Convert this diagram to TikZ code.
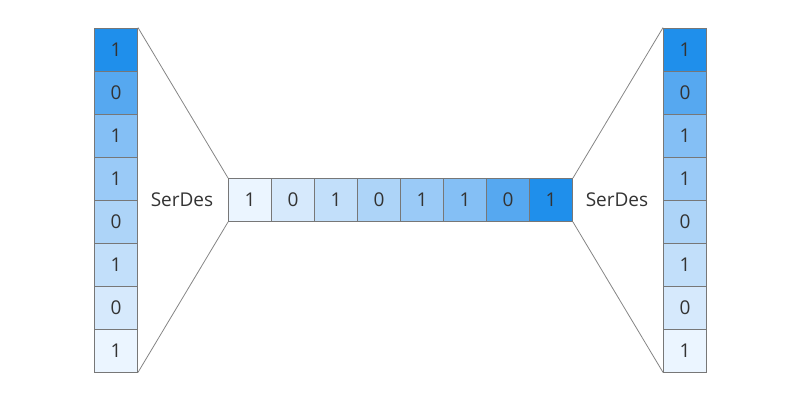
\documentclass[tikz,border=0pt]{standalone}
\usepackage{fontspec}
\setmainfont{Open Sans}
\usetikzlibrary{positioning}
\definecolor{sd0}{HTML}{EBF5FF}
\definecolor{sd1}{HTML}{D6E9FC}
\definecolor{sd2}{HTML}{C2DFFA}
\definecolor{sd3}{HTML}{ADD4F8}
\definecolor{sd4}{HTML}{9ACAF7}
\definecolor{sd5}{HTML}{84BFF5}
\definecolor{sd6}{HTML}{56A8F0}
\definecolor{sd7}{HTML}{1F8FEB}
\definecolor{cedge}{HTML}{777777}
\definecolor{cline}{HTML}{858585}
\definecolor{cink}{HTML}{333333}
\tikzset{
  bitcell/.style={draw=cedge,line width=0.9pt,minimum width=43pt,minimum height=43pt,inner sep=0pt,text=cink},
  fan/.style={draw=cline,line width=0.8pt},
  slab/.style={text=cink},
}

\begin{document}
\begin{tikzpicture}[x=1pt,y=1pt,font=\fontsize{19}{22}\selectfont]
  \useasboundingbox (0,0) rectangle (800,400);
  % serial word in the middle, parallel words on both sides (shade j = bit j)
  \foreach \b [count=\j from 0] in {1,0,1,0,1,1,0,1} {
    \pgfmathtruncatemacro{\k}{7-\j}
    \node[bitcell,fill=sd\j] (m\j) at (250+43*\j,200) {\b};
    \node[bitcell,fill=sd\j] (l\k) at (116,49.5+43*\j) {\b};
    \node[bitcell,fill=sd\j] (r\k) at (685,49.5+43*\j) {\b};
  }

  \node[slab] (sl) at (182,200) {SerDes};
  \node[slab] (sr) at (617,200) {SerDes};

  \draw[fan] (l0.north east) -- (m0.north west);
  \draw[fan] (l7.south east) -- (m0.south west);
  \draw[fan] (m7.north east) -- (r0.north west);
  \draw[fan] (m7.south east) -- (r7.south west);
\end{tikzpicture}
\end{document}
